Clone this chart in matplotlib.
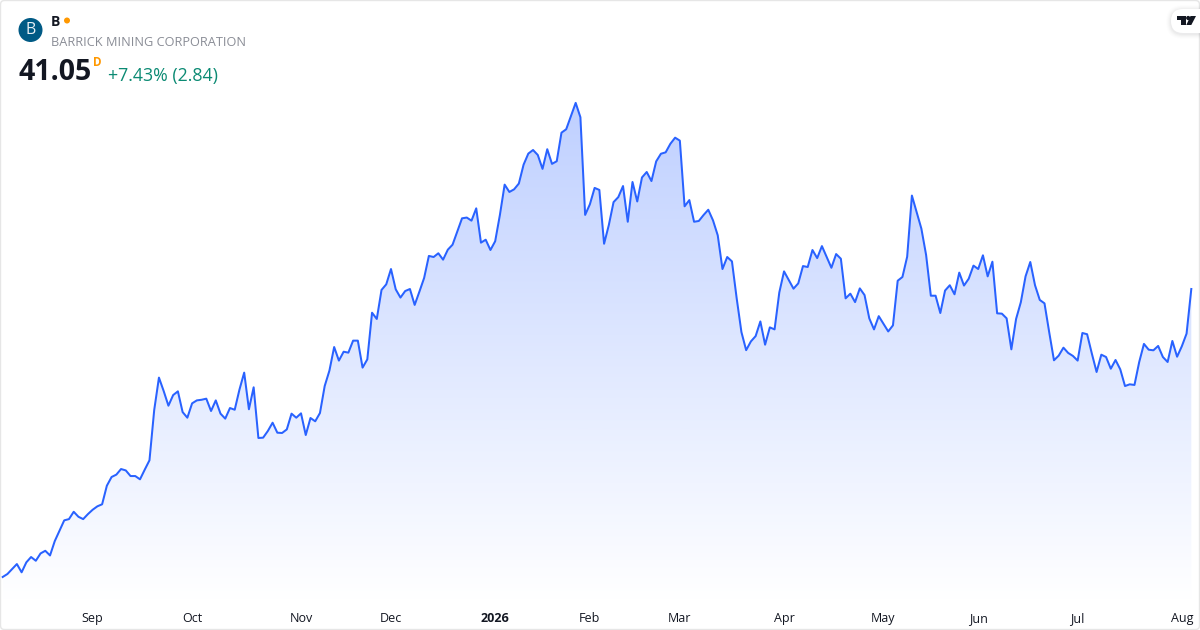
import matplotlib
matplotlib.use("Agg")
import matplotlib.pyplot as plt
import numpy as np
from matplotlib.patches import Circle, FancyBboxPatch, Polygon
from matplotlib.colors import LinearSegmentedColormap

plt.rcParams['font.family'] = ['Open Sans', 'DejaVu Sans']

closes = [
    22.59, 22.78, 23.10, 23.42, 22.89, 23.53, 23.87, 23.63, 24.10, 24.27, 23.97, 24.89, 25.56, 26.22, 26.30, 26.77,
    26.45, 26.30, 26.62, 26.90, 27.12, 27.25, 28.44, 29.00, 29.15, 29.51, 29.42, 29.06, 29.06, 28.85, 29.47, 30.07,
    33.29, 35.37, 34.51, 33.57, 34.25, 34.49, 33.16, 32.80, 33.72, 33.91, 33.95, 34.02, 33.23, 33.91, 33.06, 32.74,
    33.42, 33.31, 34.60, 35.69, 33.34, 34.75, 31.50, 31.52, 31.95, 32.48, 31.84, 31.82, 32.05, 33.06, 32.80, 33.08,
    31.69, 32.78, 32.57, 33.10, 34.83, 35.82, 37.33, 36.46, 37.03, 36.97, 37.74, 37.74, 36.01, 36.54, 39.53, 39.13,
    40.99, 41.35, 42.33, 41.03, 40.50, 40.92, 41.05, 40.03, 40.88, 41.76, 43.17, 43.10, 43.34, 42.93, 43.57, 43.89,
    44.73, 45.58, 45.63, 45.43, 46.22, 44.02, 44.21, 43.55, 44.11, 45.80, 47.74, 47.27, 47.44, 47.81, 49.02, 49.73,
    49.96, 49.64, 48.75, 50.01, 49.07, 49.24, 51.07, 51.29, 52.14, 52.98, 52.06, 45.80, 46.48, 47.53, 47.40,
    43.95, 45.15, 46.62, 46.94, 47.65, 45.36, 47.91, 46.66, 48.20, 48.55, 47.97, 49.23, 49.72, 49.81, 50.36, 50.75,
    50.56, 46.35, 46.75, 45.36, 45.41, 45.79, 46.13, 45.45, 44.49, 42.33, 43.10, 42.82, 40.45, 38.29, 37.13, 37.69,
    38.03, 38.97, 37.48, 38.59, 38.46, 40.83, 42.18, 41.62, 41.07, 41.41, 42.52, 42.46, 43.55, 43.03, 43.80, 43.10,
    42.41, 43.29, 42.99, 40.45, 40.75, 40.21, 41.09, 40.66, 39.17, 38.46, 39.31, 38.82, 38.33, 38.72, 41.58,
    41.82, 43.12, 47.04, 45.97, 44.92, 43.23, 40.62, 40.62, 39.51, 40.95, 41.29, 40.71, 42.10, 41.27, 41.71, 42.55,
    42.33, 43.21, 41.86, 42.80, 39.49, 39.47, 39.17, 37.18, 39.13, 40.20, 41.86, 42.78, 41.29, 40.35, 40.13, 38.27,
    36.48, 36.78, 37.29, 36.95, 36.76, 36.46, 38.23, 38.15, 36.91, 35.73, 36.84, 36.69, 35.94, 36.50, 35.90, 34.83,
    34.94, 34.90, 36.37, 37.53, 37.16, 37.12, 37.40, 36.69, 36.37, 37.72, 36.71, 37.38, 38.19, 41.05,
]
month_labels = ['Sep', 'Oct', 'Nov', 'Dec', '2026', 'Feb', 'Mar', 'Apr', 'May', 'Jun', 'Jul', 'Aug']
month_index = [19, 40, 63, 82, 104, 124, 143, 165, 186, 206, 227, 249]

n = len(closes)
idx = np.arange(n)

W, H = 1200, 630
fig = plt.figure(figsize=(W / 100, H / 100), dpi=100, facecolor='white')

# plot area: from the top of the figure down to y = 600 px
ax = fig.add_axes([0, 30 / H, 1, 600 / H])
px_first, px_last = 2.67, 1191.3
step = (px_last - px_first) / (n - 1)
xlim = (-px_first / step, (W - px_first) / step)
per_px = 0.0641
ylim = (41.05 - (600 - 289) * per_px, 41.05 + 289 * per_px)
for s in ax.spines.values():
    s.set_visible(False)
ax.yaxis.set_visible(False)
ax.set_xticks(month_index, month_labels)
ax.tick_params(axis='x', length=0, pad=8.6, labelsize=9, labelcolor='#131722')
for t in ax.get_xticklabels():
    if t.get_text() == '2026':
        t.set_fontweight('bold')

# gradient area under the line
top_price = max(closes)
base = ylim[0]
cmap = LinearSegmentedColormap.from_list('area', ['#ffffff', '#bfd0ff'])
im = ax.imshow(np.linspace(1, 0, 256).reshape(-1, 1), cmap=cmap, vmin=0, vmax=1, aspect='auto',
               extent=[idx[0], idx[-1], base, top_price], zorder=1, interpolation='bilinear')
poly = Polygon(np.r_[[[idx[0], base]], np.c_[idx, closes], [[idx[-1], base]]], closed=True,
               transform=ax.transData, fc='none', ec='none')
ax.add_patch(poly)
im.set_clip_path(poly)
ax.set_xlim(*xlim)
ax.set_ylim(*ylim)

ax.plot(idx, closes, color='#2962ff', lw=1.45, solid_joinstyle='round', zorder=3)


def T(x, y, s, **kw):
    return fig.text(x / W, 1 - y / H, s, **kw)


# header and frame drawn in pixel coordinates
fa = fig.add_axes([0, 0, 1, 1], facecolor='none')
fa.set_xlim(0, W)
fa.set_ylim(H, 0)
fa.axis('off')
fa.add_patch(FancyBboxPatch((0.5, 0.5), W - 1, H - 1, boxstyle='round,pad=0,rounding_size=4',
                            fc='none', ec='#e6e6e6', lw=1.0, clip_on=False))
fa.add_patch(Circle((30.5, 30), 12, fc='#005a85', ec='none'))
T(30.5, 30.5, 'B', color='#e8f0f5', fontsize=11.5, ha='center', va='center')
T(51, 22, 'B', color='#131722', fontsize=10, fontweight='bold', ha='left', va='center')
fa.add_patch(Circle((67, 20.5), 3, fc='#ff9800', ec='none'))
T(51, 42, 'BARRICK MINING CORPORATION', color='#8a8d96', fontsize=9.2, ha='left', va='center')
T(18.5, 72, '41.05', color='#131722', fontsize=20.5, fontweight='bold', ha='left', va='center')
T(93, 62, 'D', color='#ff9800', fontsize=8.4, fontweight='bold', ha='left', va='center')
T(108, 75.5, '+7.43% (2.84)', color='#0b8a73', fontsize=12.75, ha='left', va='center')

# logo tab at top right
for grow, alpha in zip((5, 4, 3, 2, 1), (0.008, 0.012, 0.016, 0.02, 0.025)):
    fa.add_patch(FancyBboxPatch((1171 - grow, 9 - grow + 1), 45 + grow, 24 + 2 * grow,
                                boxstyle=f'round,pad=0,rounding_size={12 + grow}', fc='#131722', ec='none', alpha=alpha))
fa.add_patch(FancyBboxPatch((1171, 9), 45, 24, boxstyle='round,pad=0,rounding_size=12', fc='white', ec='none'))
fa.add_patch(Polygon([(1177, 16), (1186, 16), (1186, 25), (1181.3, 25), (1181.3, 20.4), (1177, 20.4)],
                     fc='#131722', ec='none'))
fa.add_patch(Circle((1188.2, 18), 2.1, fc='#131722', ec='none'))
fa.add_patch(Polygon([(1190.5, 16), (1196, 16), (1191.3, 25), (1186.3, 25)], fc='#131722', ec='none'))

fig.savefig('out.png', dpi=100)
